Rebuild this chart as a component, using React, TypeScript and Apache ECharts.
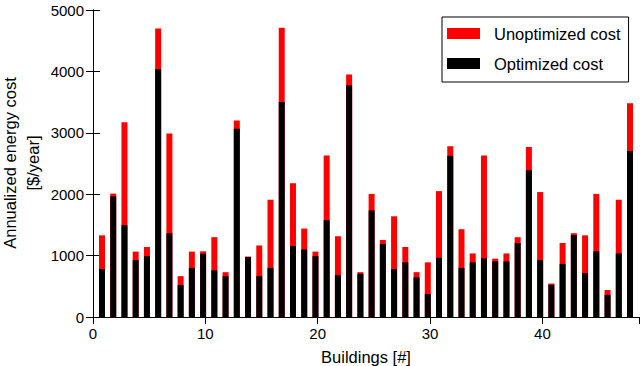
import React, { useEffect, useRef } from "react";
import * as echarts from "echarts";

const buildings = [
  1, 2, 3, 4, 5, 6, 7, 8, 9, 10, 11, 12, 13, 14, 15, 16, 17, 18, 19, 20, 21, 22, 23, 24,
  25, 26, 27, 28, 29, 30, 31, 32, 33, 34, 35, 36, 37, 38, 39, 40, 41, 42, 43, 44, 45, 46, 47, 48,
];

const unoptimizedCost = [
  1330, 2010, 3170, 1065, 1140, 4700, 2990, 665, 1065, 1070, 1300, 730, 3200, 985, 1165, 1910,
  4710, 2180, 1440, 1065, 2630, 1315, 3950, 730, 2005, 1255, 1640, 1140, 730, 890, 2050, 2780,
  1430, 1035, 2630, 950, 1035, 1300, 2770, 2035, 545, 1205, 1365, 1330, 2005, 440, 1910, 3480,
];

const optimizedCost = [
  780, 1965, 1495, 925, 990, 4035, 1365, 520, 800, 1030, 760, 665, 3065, 975, 665, 800, 3500,
  1155, 1100, 990, 1575, 680, 3775, 705, 1735, 1190, 780, 890, 645, 375, 965, 2625, 800, 890,
  955, 905, 905, 1205, 2390, 925, 525, 865, 1335, 715, 1070, 360, 1035, 2705,
];

const seriesNames = ["Unoptimized cost", "Optimized cost"];
const xTitle = "Buildings [#]";
const yTitle = "Annualized energy cost\n[$/year]";

const FONT = "'Liberation Sans', Arial, Helvetica, sans-serif";
const BAR_OFFSET = 0.2;

export default function App() {
  const ref = useRef<HTMLDivElement>(null);

  useEffect(() => {
    if (!ref.current) return;
    const chart = echarts.init(ref.current, undefined, { renderer: "svg" });

    const axisLine = { show: true, lineStyle: { color: "#000", width: 1 } };
    const tick = { show: true, inside: true, length: 7, lineStyle: { color: "#000", width: 1 } };
    const label = {
      color: "#000",
      fontSize: 15,
      fontFamily: FONT,
      formatter: (v: number) => String(v),
    };

    const toPairs = (vals: number[]) => buildings.map((b, i) => [b - BAR_OFFSET, vals[i]]);

    chart.setOption({
      animation: false,
      backgroundColor: "#fff",
      grid: { left: 93, right: 1, top: 10, bottom: 49, containLabel: false },
      xAxis: [
        {
          type: "value",
          min: 0,
          max: 48.6,
          interval: 10,
          position: "bottom",
          axisLine,
          axisTick: tick,
          axisLabel: { ...label, margin: 9, showMaxLabel: false },
          splitLine: { show: false },
        },
        {
          type: "value",
          min: 0,
          max: 48.6,
          interval: 10,
          position: "top",
          axisLine,
          axisTick: tick,
          axisLabel: { show: false },
          splitLine: { show: false },
        },
      ],
      yAxis: [
        {
          type: "value",
          min: 0,
          max: 5000,
          interval: 1000,
          position: "left",
          axisLine,
          axisTick: tick,
          axisLabel: { ...label, margin: 9 },
          splitLine: { show: false },
        },
        {
          type: "value",
          min: 0,
          max: 5000,
          interval: 1000,
          position: "right",
          axisLine,
          axisTick: tick,
          axisLabel: { show: false },
          splitLine: { show: false },
        },
      ],
      legend: {
        orient: "vertical",
        left: 442,
        top: 17,
        data: seriesNames,
        icon: "rect",
        itemWidth: 33,
        itemHeight: 11,
        itemGap: 13,
        padding: [8, 8, 10, 5],
        borderColor: "#000",
        borderWidth: 1,
        borderRadius: 0,
        backgroundColor: "#fff",
        textStyle: { color: "#000", fontSize: 16.5, fontFamily: FONT, padding: [0, 0, 0, 9] },
        itemStyle: { borderWidth: 0 },
      },
      series: [
        {
          name: seriesNames[0],
          type: "bar",
          xAxisIndex: 0,
          yAxisIndex: 0,
          data: toPairs(unoptimizedCost),
          barWidth: 6,
          barGap: "-100%",
          itemStyle: { color: "#ff0000" },
        },
        {
          name: seriesNames[1],
          type: "bar",
          xAxisIndex: 0,
          yAxisIndex: 0,
          data: toPairs(optimizedCost),
          barWidth: 6,
          barGap: "-100%",
          itemStyle: { color: "#000000" },
        },
      ],
      graphic: [
        {
          type: "text",
          x: 366,
          y: 357,
          style: {
            text: xTitle,
            fontSize: 16.5,
            fontFamily: FONT,
            fill: "#000",
            align: "center",
            verticalAlign: "middle",
          },
        },
        {
          type: "text",
          x: 21,
          y: 163,
          rotation: Math.PI / 2,
          style: {
            text: yTitle,
            fontSize: 16.5,
            lineHeight: 23,
            fontFamily: FONT,
            fill: "#000",
            align: "center",
            verticalAlign: "middle",
          },
        },
      ],
    });

    return () => chart.dispose();
  }, []);

  return (
    <div
      ref={ref}
      style={{ position: "fixed", left: 0, top: 0, width: 640, height: 366 }}
    />
  );
}
